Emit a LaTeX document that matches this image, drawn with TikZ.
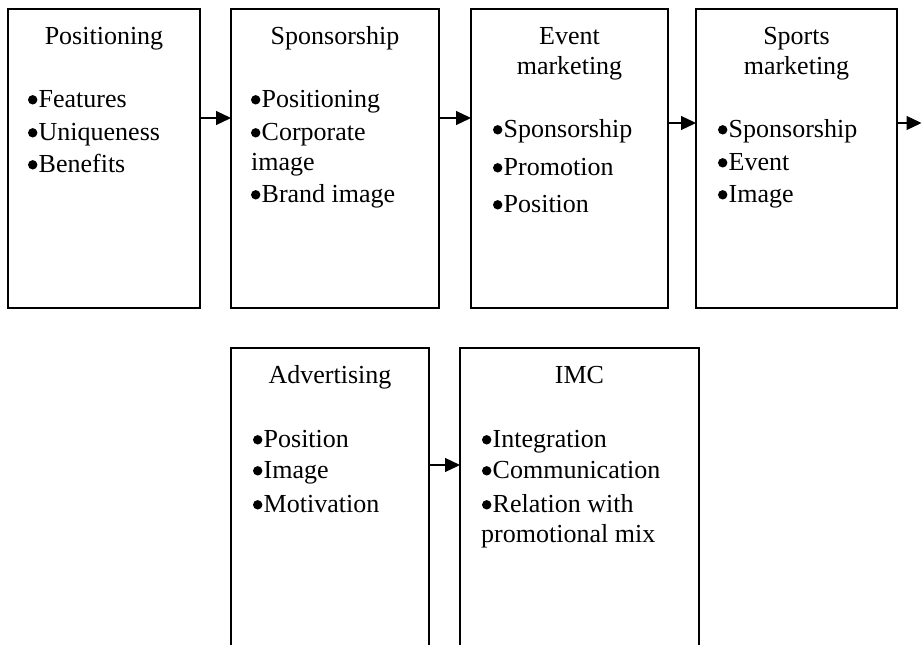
\documentclass[tikz,border=0pt]{standalone}
\usepackage{fontspec}
\setmainfont{Liberation Serif}
\usetikzlibrary{arrows.meta}
\newcommand\bul{\tikz[x=1pt,y=1pt,baseline=0pt]{\fill[black] (5.5,7.2) circle[radius=4.7pt]; \useasboundingbox (0,0) rectangle (11.5,1);}}
\begin{document}
\begin{tikzpicture}[x=1pt,y=-1pt,
  box/.style={draw,line width=1.3pt,inner sep=0pt,outer sep=0pt},
  txt/.style={inner sep=0pt,anchor=base west,font=\fontsize{26}{31}\selectfont},
  ttl/.style={inner sep=0pt,anchor=base,font=\fontsize{26}{31}\selectfont},
  arr/.style={line width=1.3pt,-{Triangle[length=15pt,width=14pt]}}]
\useasboundingbox (0,0) rectangle (922,645);
\clip (0,0) rectangle (922,645);
% boxes
\node[box,minimum width=192pt,minimum height=299pt] (b1) at (104,158.5) {};
\node[box,minimum width=208pt,minimum height=299pt] (b2) at (335,158.5) {};
\node[box,minimum width=197pt,minimum height=299pt] (b3) at (569.5,158.5) {};
\node[box,minimum width=201pt,minimum height=299pt] (b4) at (796.5,158.5) {};
\node[box,minimum width=198pt,minimum height=352pt] (b5) at (330,524) {};
\node[box,minimum width=239pt,minimum height=352pt] (b6) at (579.5,524) {};
% box 1
\node[ttl] (t1) at (104,45) {Positioning};
\node[txt] (t1a) at (27,107) {\bul Features};
\node[txt] (t1b) at (27,140) {\bul Uniqueness};
\node[txt] (t1c) at (27,172) {\bul Benefits};
% box 2
\node[ttl] (t2) at (335,45) {Sponsorship};
\node[txt] (t2a) at (250,107) {\bul Positioning};
\node[txt] (t2b) at (250,140) {\bul Corporate};
\node[txt] (t2c) at (251,170) {image};
\node[txt] (t2d) at (250,202) {\bul Brand image};
% box 3
\node[ttl] (t3) at (569.5,45) {Event};
\node[ttl] (t3x) at (569.5,74) {marketing};
\node[txt] (t3a) at (492,137) {\bul Sponsorship};
\node[txt] (t3b) at (492,175) {\bul Promotion};
\node[txt] (t3c) at (492,212) {\bul Position};
% box 4
\node[ttl] (t4) at (796.5,45) {Sports};
\node[ttl] (t4x) at (796.5,74) {marketing};
\node[txt] (t4a) at (717,137) {\bul Sponsorship};
\node[txt] (t4b) at (717,170) {\bul Event};
\node[txt] (t4c) at (717,202) {\bul Image};
% box 5
\node[ttl] (t5) at (330,383) {Advertising};
\node[txt] (t5a) at (252,447) {\bul Position};
\node[txt] (t5b) at (252,478) {\bul Image};
\node[txt] (t5c) at (252,512) {\bul Motivation};
% box 6
\node[ttl] (t6) at (579.5,383) {IMC};
\node[txt] (t6a) at (481,447) {\bul Integration};
\node[txt] (t6b) at (481,478) {\bul Communication};
\node[txt] (t6c) at (481,512) {\bul Relation with};
\node[txt] (t6d) at (481,542) {promotional mix};
% arrows
\coordinate (ya) at (0,118);
\coordinate (yb) at (0,123);
\coordinate (yc) at (0,465);
\coordinate (out) at (921.5,123);
\draw[arr] (b1.east |- ya) -- (b2.west |- ya);
\draw[arr] (b2.east |- ya) -- (b3.west |- ya);
\draw[arr] (b3.east |- yb) -- (b4.west |- yb);
\draw[arr] (b4.east |- yb) -- (out);
\draw[arr] (b5.east |- yc) -- (b6.west |- yc);
\end{tikzpicture}
\end{document}
